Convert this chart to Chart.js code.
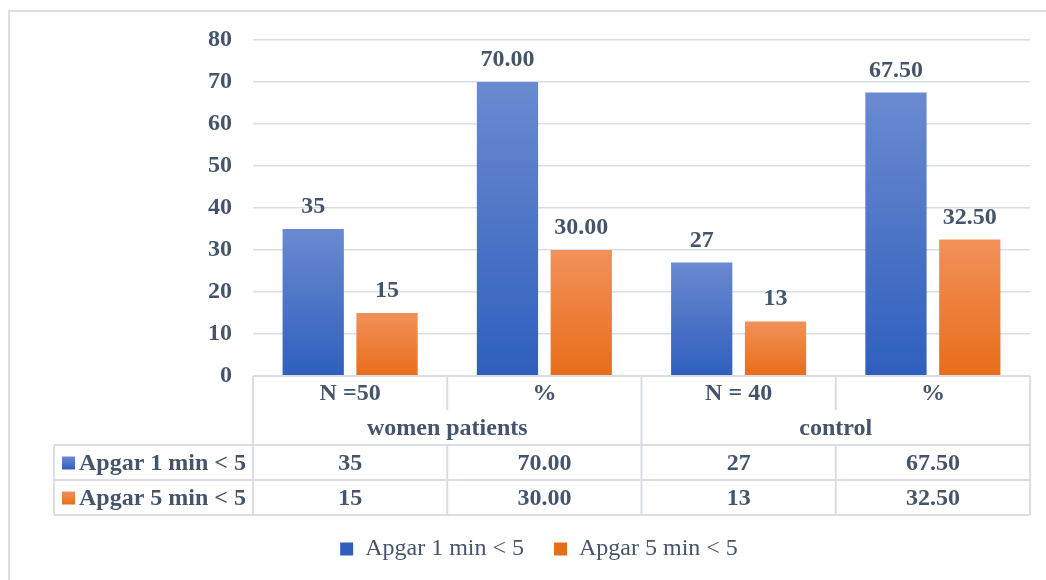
<!DOCTYPE html>
<html>
<head>
<meta charset="utf-8">
<script src="https://cdn.jsdelivr.net/npm/chart.js@4.4.1/dist/chart.umd.min.js"></script>
<style>
  body { margin: 0; background: #fff; }
  canvas { display: block; }
</style>
</head>
<body>
<canvas id="myChart" width="1046" height="580"></canvas>
<script>
const categories = ['N =50', '%', 'N = 40', '%'];
const groups = ['women patients', 'control'];
const seriesNames = ['Apgar 1 min < 5', 'Apgar 5 min < 5'];
const apgar1Values = [35, 70.00, 27, 67.50];
const apgar5Values = [15, 30.00, 13, 32.50];
const apgar1Labels = ['35', '70.00', '27', '67.50'];
const apgar5Labels = ['15', '30.00', '13', '32.50'];
const yTicks = [0, 10, 20, 30, 40, 50, 60, 70, 80];

const FONT = "'Liberation Serif', 'Times New Roman', serif";
const TEXT = '#44546A';
const GRID = '#D9DEE6';
const BLUE = ['#6A8AD0', '#2F5FBD'];
const ORANGE = ['#F1915A', '#E86D18'];

// vertical gradient on each bar, top to base
function barFill(colors) {
    return function (c) {
        const chart = c.chart;
        if (!chart.chartArea || c.type !== 'data') return colors[1];
        const y = chart.scales.y;
        const top = y.getPixelForValue(c.raw);
        const bottom = y.getPixelForValue(0);
        if (!isFinite(top) || !isFinite(bottom) || top === bottom) return colors[1];
        const g = chart.ctx.createLinearGradient(0, top, 0, bottom);
        g.addColorStop(0, colors[0]);
        g.addColorStop(1, colors[1]);
        return g;
    };
}

const valueLabels = [apgar1Labels, apgar5Labels];
const keyColors = [BLUE, ORANGE];

// labels above bars
const barLabels = {
    id: 'barLabels',
    afterDatasetsDraw(chart) {
        const ctx = chart.ctx;
        ctx.save();
        ctx.font = 'bold 24px ' + FONT;
        ctx.fillStyle = TEXT;
        ctx.textAlign = 'center';
        ctx.textBaseline = 'alphabetic';
        chart.data.datasets.forEach((ds, i) => {
            chart.getDatasetMeta(i).data.forEach((bar, j) => {
                ctx.fillText(valueLabels[i][j], bar.x, bar.y - 16);
            });
        });
        ctx.restore();
    }
};

// data table under the x axis + outer frame
const dataTable = {
    id: 'dataTable',
    beforeDraw(chart) {
        const ctx = chart.ctx;
        ctx.save();
        ctx.strokeStyle = GRID;
        ctx.lineWidth = 2;
        ctx.beginPath();
        ctx.moveTo(9, 580);
        ctx.lineTo(9, 11);
        ctx.lineTo(1046, 11);
        ctx.stroke();
        ctx.restore();
    },
    afterDraw(chart) {
        const ctx = chart.ctx;
        const xs = chart.scales.x;
        const area = chart.chartArea;
        const catW = (area.right - area.left) / categories.length;
        const top = area.bottom;
        const rows = [top, top + 34, top + 69, top + 104, top + 139];
        const tableLeft = 54;

        ctx.save();
        ctx.strokeStyle = GRID;
        ctx.lineWidth = 2;
        ctx.beginPath();
        // horizontal lines
        ctx.moveTo(area.left, rows[0]); ctx.lineTo(area.right, rows[0]);
        for (let r = 2; r <= 4; r++) {
            ctx.moveTo(tableLeft, rows[r]); ctx.lineTo(area.right, rows[r]);
        }
        // vertical lines
        for (let i = 0; i <= categories.length; i++) {
            const x = area.left + i * catW;
            const full = i % 2 === 0;
            ctx.moveTo(x, rows[0]);
            ctx.lineTo(x, full ? rows[4] : rows[1]);
            if (!full) { ctx.moveTo(x, rows[2]); ctx.lineTo(x, rows[4]); }
        }
        ctx.moveTo(tableLeft, rows[2]); ctx.lineTo(tableLeft, rows[4]);
        ctx.stroke();

        ctx.font = 'bold 24px ' + FONT;
        ctx.fillStyle = TEXT;
        ctx.textAlign = 'center';
        ctx.textBaseline = 'middle';
        categories.forEach((c, i) => {
            ctx.fillText(c, xs.getPixelForValue(i), (rows[0] + rows[1]) / 2 + 1);
        });
        groups.forEach((g, i) => {
            ctx.fillText(g, area.left + (i * 2 + 1) * catW, (rows[1] + rows[2]) / 2 + 1);
        });
        valueLabels.forEach((labels, s) => {
            const cy = (rows[2 + s] + rows[3 + s]) / 2 + 1;
            labels.forEach((t, i) => ctx.fillText(t, xs.getPixelForValue(i), cy));
            ctx.textAlign = 'left';
            ctx.fillText(seriesNames[s], tableLeft + 25, cy);
            ctx.textAlign = 'center';
            const g = ctx.createLinearGradient(0, cy - 7, 0, cy + 6);
            g.addColorStop(0, keyColors[s][0]);
            g.addColorStop(1, keyColors[s][1]);
            ctx.fillStyle = g;
            ctx.fillRect(tableLeft + 8, cy - 7, 13, 13);
            ctx.fillStyle = TEXT;
        });
        ctx.restore();
    }
};

const data = {
    labels: categories,
    datasets: [{
        label: seriesNames[0],
        data: apgar1Values,
        backgroundColor: barFill(BLUE),
        categoryPercentage: 0.76,
        barPercentage: 0.83
    }, {
        label: seriesNames[1],
        data: apgar5Values,
        backgroundColor: barFill(ORANGE),
        categoryPercentage: 0.76,
        barPercentage: 0.83
    }]
};

const config = {
    type: 'bar',
    data: data,
    options: {
        responsive: false,
        animation: false,
        devicePixelRatio: 1,
        layout: { padding: { left: 48, right: 16, top: 40, bottom: 9 } },
        scales: {
            x: {
                grid: { display: false },
                border: { display: false },
                ticks: { display: false },
                afterFit(scale) { scale.height = 131; }
            },
            y: {
                min: 0,
                max: 80,
                afterBuildTicks(scale) { scale.ticks = yTicks.map(v => ({ value: v })); },
                grid: { color: GRID, lineWidth: 1.5, drawTicks: false },
                border: { display: false },
                ticks: {
                    padding: 21,
                    color: TEXT,
                    font: { family: FONT, size: 24, weight: 'bold' }
                },
                afterFit(scale) { scale.width = 205; }
            }
        },
        plugins: {
            legend: {
                position: 'bottom',
                labels: {
                    boxWidth: 13,
                    boxHeight: 13,
                    padding: 30,
                    color: TEXT,
                    font: { family: FONT, size: 24 },
                    generateLabels(chart) {
                        return chart.data.datasets.map((ds, i) => ({
                            text: ds.label,
                            fillStyle: keyColors[i][1],
                            strokeStyle: keyColors[i][1],
                            lineWidth: 0,
                            fontColor: TEXT,
                            hidden: false,
                            datasetIndex: i
                        }));
                    }
                }
            },
            tooltip: { enabled: false }
        }
    },
    plugins: [barLabels, dataTable]
};

const myChart = new Chart(document.getElementById('myChart'), config);
</script>
</body>
</html>
